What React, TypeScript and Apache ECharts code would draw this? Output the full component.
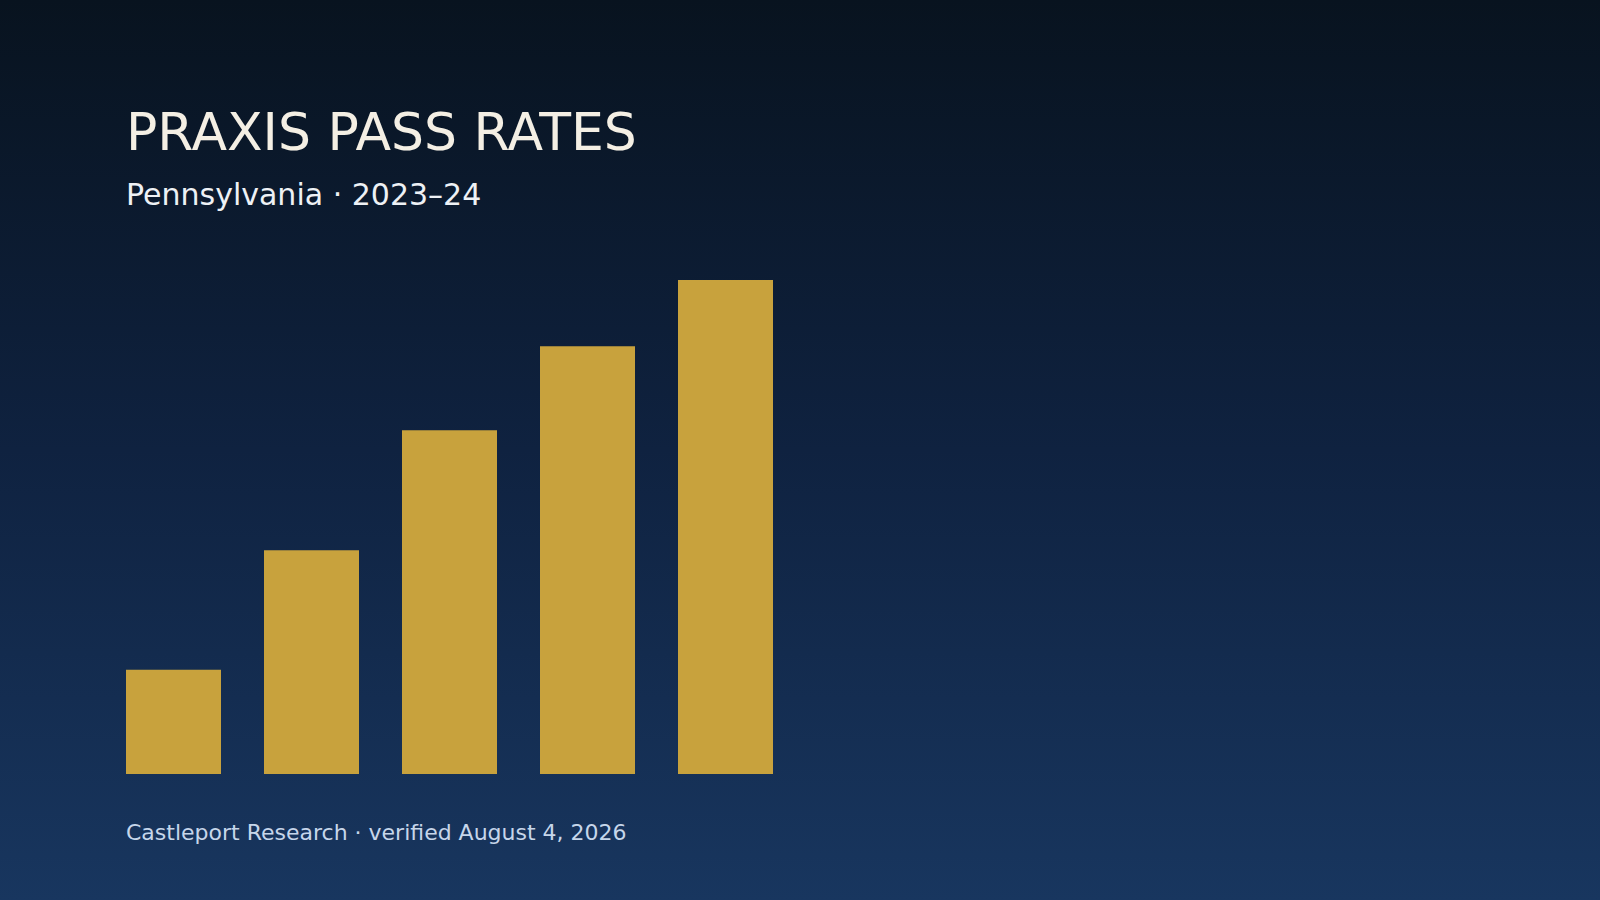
import * as echarts from "echarts";
import { useEffect, useRef } from "react";

// 图中没有刻度与类目标签，只有五根柱；数值按柱高读出（最高柱 = 100）。
const CATEGORIES = ["1", "2", "3", "4", "5"];
const VALUES = [21.1, 45.3, 69.6, 86.6, 100];

const TITLE = "PRAXIS PASS RATES";
const SUBTITLE = "Pennsylvania · 2023–24";
const FOOTNOTE = "Castleport Research · verified August 4, 2026";

const FONT = "'DejaVu Sans', Verdana, sans-serif";
const BAR_COLOR = "#c8a23d";
const TEXT_LEFT = 126;

function buildOption(): echarts.EChartsOption {
  return {
    animation: false,
    backgroundColor: {
      type: "linear",
      x: 0,
      y: 0,
      x2: 0,
      y2: 1,
      colorStops: [
        { offset: 0, color: "#08131f" },
        { offset: 0.5, color: "#0f2240" },
        { offset: 1, color: "#18365f" },
      ],
    } as unknown as string,
    grid: { left: 104.5, width: 690, top: 280, bottom: 126, containLabel: false },
    xAxis: {
      type: "category",
      data: CATEGORIES,
      axisLine: { show: false },
      axisTick: { show: false },
      axisLabel: { show: false },
      splitLine: { show: false },
    },
    yAxis: {
      type: "value",
      min: 0,
      max: 100,
      axisLine: { show: false },
      axisTick: { show: false },
      axisLabel: { show: false },
      splitLine: { show: false },
    },
    series: [
      {
        type: "bar",
        data: VALUES,
        barWidth: 95,
        itemStyle: { color: BAR_COLOR },
        silent: true,
      },
    ],
    graphic: [
      {
        type: "text",
        x: TEXT_LEFT,
        y: 132,
        style: {
          text: TITLE,
          font: `52px ${FONT}`,
          fill: "#f4efe4",
          verticalAlign: "middle",
        },
      },
      {
        type: "text",
        x: TEXT_LEFT,
        y: 194,
        style: {
          text: SUBTITLE,
          font: `30px ${FONT}`,
          fill: "#eef1f5",
          verticalAlign: "middle",
        },
      },
      {
        type: "text",
        x: TEXT_LEFT,
        y: 832,
        style: {
          text: FOOTNOTE,
          font: `22px ${FONT}`,
          fill: "#c6d6ea",
          verticalAlign: "middle",
        },
      },
    ],
  };
}

export default function App() {
  const chartRef = useRef<HTMLDivElement | null>(null);

  useEffect(() => {
    const el = chartRef.current;
    if (!el) {
      return undefined;
    }
    const chart = echarts.init(el, undefined, { renderer: "svg" });
    chart.setOption(buildOption());
    return () => {
      chart.dispose();
    };
  }, []);

  return (
    <div
      ref={chartRef}
      style={{ position: "fixed", left: 0, top: 0, width: 1600, height: 900 }}
    />
  );
}
